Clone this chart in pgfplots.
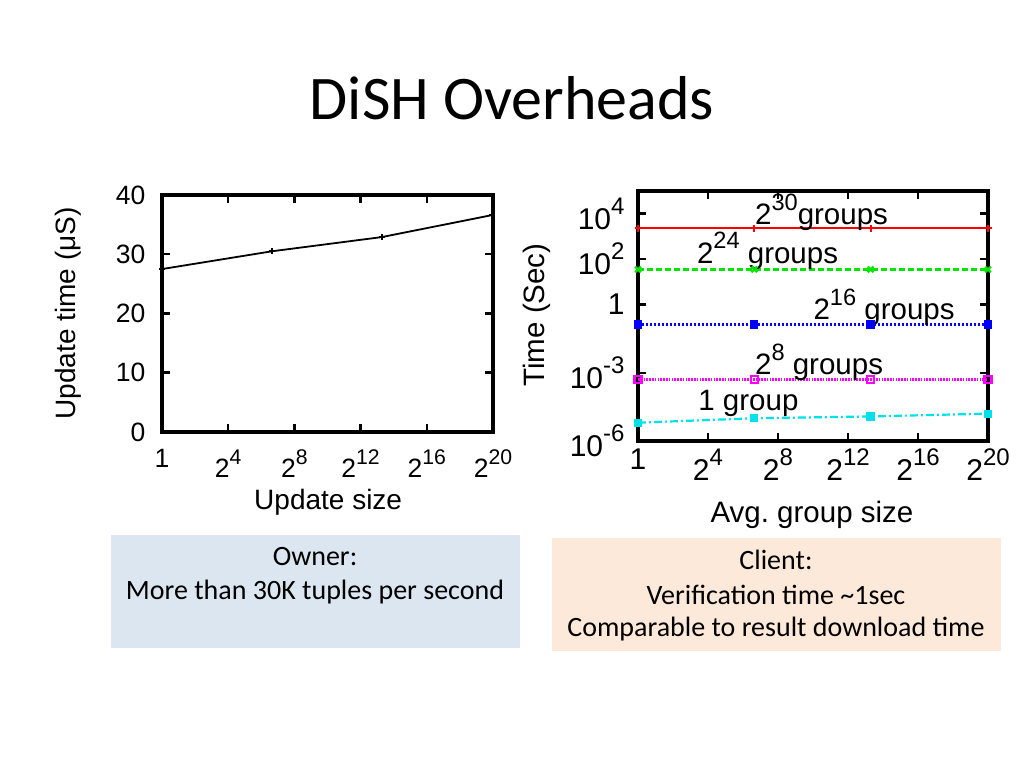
\documentclass[border=0pt]{standalone}
\usepackage{fontspec}
\setmainfont{Carlito}
\newfontfamily\plotfont{Liberation Sans}
\usepackage{pgfplots}
\pgfplotsset{compat=1.18}
\definecolor{boxblue}{RGB}{220,230,241}
\definecolor{boxorange}{RGB}{253,233,217}
\definecolor{gpred}{RGB}{255,0,0}
\definecolor{gpgreen}{RGB}{0,230,0}
\definecolor{gpblue}{RGB}{0,0,255}
\definecolor{gpmag}{RGB}{255,0,255}
\definecolor{gpcyan}{RGB}{0,225,235}
\newcommand{\sps}[1]{\raisebox{0.5em}{\fontsize{0.8\dimexpr\fontdimen6\font\relax}{10}\selectfont #1}}
\newcommand{\ltick}{\plotfont\fontsize{26.5}{28}\selectfont}
\newcommand{\rtick}{\plotfont\fontsize{30}{32}\selectfont}
\newcommand{\llab}{\plotfont\fontsize{28}{30}\selectfont}
\newcommand{\rlab}{\plotfont\fontsize{29.5}{32}\selectfont}
\pgfplotsset{gp/.style={
  scale only axis, clip=false,
  axis line style={line width=3.5pt},
  tick align=inside,
  major tick length=8pt,
  every tick/.style={line width=2.5pt,black},
  minor tick style={draw=none},
  /pgf/number format/assume math mode=true,
}}
\begin{document}
\begin{tikzpicture}[x=1pt,y=1pt]
\useasboundingbox (0,0) rectangle (1024,768);
\fill[white] (0,0) rectangle (1024,768);
\node[font=\fontsize{62}{66}\selectfont] at (512,670) {DiSH Overheads};
\fill[boxblue] (111,233) rectangle (520,120);
\fill[boxorange] (552,230) rectangle (1001,117);
\node[font=\fontsize{28}{30}\selectfont] at (315,211) {Owner:};
\node[font=\fontsize{28}{30}\selectfont] at (315,176) {More than 30K tuples per second};
\node[font=\fontsize{28}{30}\selectfont] at (776,208) {Client:};
\node[font=\fontsize{28}{30}\selectfont] at (776,173) {Verification time \char"007E 1sec};
\node[font=\fontsize{28}{30}\selectfont] at (776,139) {Comparable to result download time};

\begin{axis}[gp,
  at={(162pt,336pt)}, anchor=south west,
  width=331pt, height=237pt,
  tick label style={font=\ltick},
  xticklabel style={yshift=-14pt},
  yticklabel style={xshift=-13pt},
  xmode=log, log basis x=2, xmin=1, xmax=1048576,
  ymin=0, ymax=40,
  xtick={1,16,256,4096,65536,1048576},
  xticklabels={1,2\sps{4},2\sps{8},2\sps{12},2\sps{16},2\sps{20}},
  ytick={0,10,20,30,40},
]
\addplot[black, line width=1.8pt, mark=+, mark size=3pt] coordinates {
  (1,27.5) (100,30.5) (10000,32.9) (1000000,36.6)
};
\node[font=\llab] at (rel axis cs:0.502,-0.295) {Update size};
\node[font=\llab, rotate=90] at (rel axis cs:-0.284,0.5) {Update time (μS)};
\end{axis}

\begin{axis}[gp,
  at={(638pt,327pt)}, anchor=south west,
  width=350pt, height=250pt,
  tick label style={font=\rtick},
  xticklabel style={yshift=-4pt},
  yticklabel style={xshift=-10pt},
  xmode=log, log basis x=2, xmin=1, xmax=1048576,
  ymode=log, ymin=1e-6, ymax=1e5,
  xtick={1,16,256,4096,65536,1048576},
  xticklabels={1,2\sps{4},2\sps{8},2\sps{12},2\sps{16},2\sps{20}},
  ytick={1e-6,1e-3,1,1e2,1e4},
  yticklabels={10\sps{-6},10\sps{-3},1,10\sps{2},10\sps{4}},
]
\addplot[gpred, line width=2pt, mark=+, mark size=3.5pt] coordinates {
  (1,2240) (100,2240) (10000,2240) (1048576,2240)
};
\addplot[gpgreen, line width=2.3pt, dash pattern=on 6pt off 3pt, mark=x, mark size=4pt, mark options={solid}] coordinates {
  (1,35.5) (100,35.5) (10000,35.5) (1048576,35.5)
};
\addplot[gpblue, line width=2.4pt, dash pattern=on 2pt off 2pt, mark=square*, mark size=3pt, mark options={solid}] coordinates {
  (1,0.135) (100,0.135) (10000,0.135) (1048576,0.135)
};
\addplot[gpmag, line width=2.3pt, dash pattern=on 1.6pt off 1.2pt, mark=square, mark size=3.5pt, mark options={solid}] coordinates {
  (1,5.1e-4) (100,5.1e-4) (10000,5.1e-4) (1048576,5.1e-4)
};
\addplot[gpcyan, line width=2.2pt, dash pattern=on 8pt off 3pt on 2pt off 3pt, mark=square*, mark size=3pt, mark options={solid}] coordinates {
  (1,6.4e-6) (100,1.0e-5) (10000,1.2e-5) (1048576,1.6e-5)
};
\node[font=\rlab, anchor=base west, inner sep=0pt] at (rel axis cs:0.334,0.864) {2\sps{30}groups};
\node[font=\rlab, anchor=base west, inner sep=0pt] at (rel axis cs:0.168,0.711) {2\sps{24} groups};
\node[font=\rlab, anchor=base west, inner sep=0pt] at (rel axis cs:0.501,0.484) {2\sps{16} groups};
\node[font=\rlab, anchor=base west, inner sep=0pt] at (rel axis cs:0.334,0.264) {2\sps{8} groups};
\node[font=\rlab, anchor=base west, inner sep=0pt] at (rel axis cs:0.172,0.121) {1 group};
\node[font=\rlab] at (rel axis cs:0.497,-0.296) {Avg.\ group size};
\node[font=\rlab, rotate=90] at (rel axis cs:-0.289,0.504) {Time (Sec)};
\end{axis}
\end{tikzpicture}
\end{document}
